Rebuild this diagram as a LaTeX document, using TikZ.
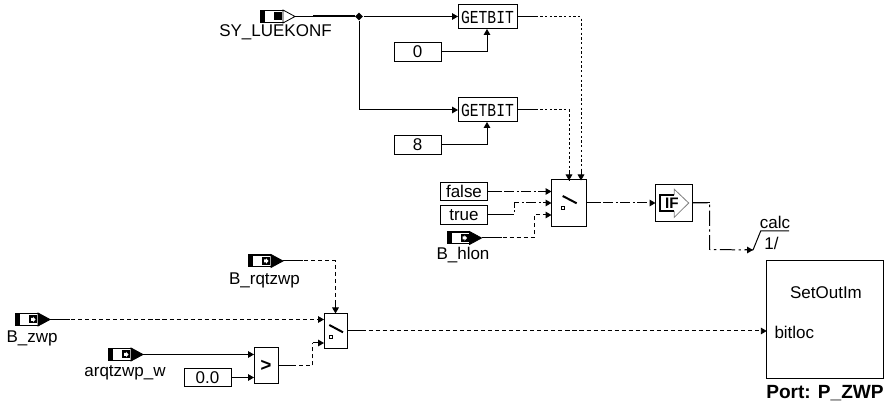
\documentclass[tikz,border=0pt]{standalone}
\usepackage{fontspec}
\setmainfont{Liberation Sans}
\setmonofont{Liberation Mono}
\usetikzlibrary{arrows.meta,shapes.geometric}

% input port, tip at node.east
\newcommand{\inport}[5]{%
  \node[portbody] (#1) at (#2,#3) {};
  \begin{scope}[shift={(#2,#3)}]
    \draw[fill=#4,line width=0.7pt] (5.5,-6.5) -- (17.5,0) -- (5.5,6.5) -- cycle;
    \fill[black] (-17.5,-6.5) rectangle (-12.5,6.5);
    \fill[black] (-17.5,-6.5) rectangle (5.5,-5.2);
    \fill[black] (-17.5,5.2) rectangle (5.5,6.5);
    \fill[black] (-3.5,-4) rectangle (4.5,4);
    \fill[#5] (-1.5,-1.5) -- (0.5,-1.5) -- (0.5,-2.8) -- (3,0) -- (0.5,2.8) -- (0.5,1.5) -- (-1.5,1.5) -- cycle;
  \end{scope}
}

\begin{document}
\begin{tikzpicture}[x=0.03cm,y=-0.03cm,line width=0.85pt,>={Triangle[length=1.8mm,width=2mm]},
  lbl/.style={font=\fontsize{14.5}{16}\selectfont,inner sep=0pt},
  blockbox/.style={draw,rectangle,inner sep=0pt,outer sep=0pt,fill=white},
  getbit/.style={blockbox,minimum width=1.77cm,minimum height=0.72cm,
    font=\fontsize{12.5}{14}\ttfamily},
  constbox/.style={blockbox,lbl,minimum width=1.41cm,minimum height=0.56cm},
  switchbox/.style={blockbox},
  portbody/.style={rectangle,minimum width=1.05cm,minimum height=0.39cm,inner sep=0pt,outer sep=0pt},
  dotwire/.style={dash pattern=on 2pt off 2pt},
  dashwire/.style={dash pattern=on 3.5pt off 2.5pt},
  mixwire/.style={dash pattern=on 8pt off 2.5pt on 1.5pt off 2.5pt}]
\useasboundingbox (0,0) rectangle (884,405);
% ---------- ports ----------
\inport{sy_luekonf}{277.5}{16.5}{white}{black}
\inport{b_hlon}{464}{238}{black}{white}
\inport{b_rqtzwp}{265.5}{261}{black}{white}
\inport{b_zwp}{32.5}{319.5}{black}{white}
\inport{arqtzwp_w}{125.5}{354.5}{black}{white}
\node[lbl] (lbl_sy) at (275.5,32) {SY\_LUEKONF};
\node[lbl] (lbl_hlon) at (463,255) {B\_hlon};
\node[lbl] (lbl_rqt) at (264.5,280) {B\_rqtzwp};
\node[lbl] (lbl_zwp) at (32,338) {B\_zwp};
\node[lbl] (lbl_arq) at (125,373) {arqtzwp\_w};
% ---------- blocks ----------
\node[getbit] (getbit_a) at (487.5,17) {\scalebox{1}[1.25]{GETBIT}};
\node[getbit] (getbit_b) at (487.5,110) {\scalebox{1}[1.25]{GETBIT}};
\node[constbox] (const_0) at (417.5,52) {0};
\node[constbox] (const_8) at (417.5,145) {8};
\node[constbox] (const_false) at (464,191.5) {false};
\node[constbox] (const_true) at (464,215) {true};
\node[constbox] (const_cmp) at (207.5,377.5) {0.0};
\node[switchbox,minimum width=1.05cm,minimum height=1.395cm] (sw_a) at (569,203) {};
\node[switchbox,minimum width=0.705cm,minimum height=1.05cm] (sw_b) at (335.75,331) {};
\node[blockbox,minimum width=1.11cm,minimum height=1.095cm] (if_b) at (674,203) {};
\node[blockbox,minimum width=0.72cm,minimum height=1.08cm,font=\fontsize{16}{18}\ttfamily\bfseries] (cmp) at (266,366) {>};
\node[blockbox,minimum width=3.495cm,minimum height=3.51cm] (setout) at (825,319.5) {};
\node[lbl] (lbl_set) at (826,292.5) {SetOutIm};
\node[lbl,anchor=west] (lbl_bit) at (774,332.5) {bitloc};
\node[lbl,anchor=north,font=\fontsize{16.3}{17}\selectfont\bfseries] (lbl_port) at (825,384.5) {Port: P\_ZWP};
% ---------- switch and IF icons ----------
\draw[line width=1.7pt] (562.7,196) -- (576.7,203.3);
\draw[line width=0.7pt] (561.8,206.8) rectangle (564.8,209.8);
\draw[line width=1.7pt] (329.3,325) -- (343,332.3);
\draw[line width=0.7pt] (329.2,335.2) rectangle (332.2,338.2);
\draw[gray,line width=0.7pt] (674.3,195) -- (674.3,189.3) -- (688.7,203) -- (674.3,217.3) -- (674.3,211);
\draw[line width=1pt] (674.3,195) -- (660,195) -- (660,211) -- (674.3,211);
\node[inner sep=0pt,font=\fontsize{13}{14}\selectfont\bfseries] (if_txt) at (672,203) {IF};
% ---------- pins ----------
\coordinate (pin_a1) at (569,180.5);
\coordinate (pin_a2) at (581,180.5);
\coordinate (pin_a3) at (551.5,203);
\coordinate (pin_a4) at (551.5,215);
\coordinate (pin_a5) at (551.5,191.5);
\coordinate (pin_b1) at (335.5,313.5);
\coordinate (pin_b2) at (324,319.5);
\coordinate (pin_b3) at (324,343);
\coordinate (pin_c1) at (254,354.5);
\coordinate (pin_c2) at (254,377.5);
\coordinate (pin_g1) at (487,29);
\coordinate (pin_g2) at (487,122);
\coordinate (root_tip) at (753,250);
% ---------- wires ----------
\node[diamond,fill,inner sep=0pt,minimum size=0.24cm] (jct) at (359,16.5) {};
\draw (sy_luekonf.east) -- (jct);
\draw[line width=1.7pt] (313,16.5) -- (jct);
\draw[->] (jct) -- (getbit_a.west |- jct);
\draw[->] (jct) |- (getbit_b.west);
\draw[->] (const_0.east) -| (pin_g1);
\draw[->] (const_8.east) -| (pin_g2);
\draw[dotwire] (getbit_a.east) -| (pin_a2);
\draw[->] ([yshift=0.3cm]pin_a2) -- (pin_a2);
\draw[dotwire] (getbit_b.east) -| (pin_a1);
\draw[->] ([yshift=0.3cm]pin_a1) -- (pin_a1);
\draw[mixwire,->] (const_false.east) -- (pin_a5);
\draw[mixwire,->] (const_true.east) -| (514,203) -- (pin_a3);
\draw[dashwire,->] (b_hlon.east) -| (534,215) -- (pin_a4);
\draw[mixwire,->] (sw_a.east) -- (if_b.west);
\draw[mixwire,dash pattern=on 13pt off 3pt on 2pt off 3pt] (if_b.east) -| (709.5,249.5) -- (root_tip);
\draw[->] (745,250) -- (root_tip);
\draw (root_tip) -- (760.7,231) -- (789,231);
\node[lbl] (lbl_calc) at (775,222) {calc};
\node[lbl] (lbl_one) at (771.5,243) {1/};
\draw[dashwire] (b_rqtzwp.east) -| (pin_b1);
\draw[->] ([yshift=0.4cm]pin_b1) -- (pin_b1);
\draw[dashwire,->] (b_zwp.east) -- (pin_b2);
\draw[->] (arqtzwp_w.east) -- (pin_c1);
\draw[->] (const_cmp.east) -- (pin_c2);
\draw[dashwire] (cmp.east) -| (312.5,343);
\draw[->] (312.5,343) -- (pin_b3);
\draw[dashwire,->] (sw_b.east) -- (setout.west |- sw_b.east);
% solid start of each broken wire
\foreach \from/\len in {getbit_a/20,getbit_b/20,const_false/14,const_true/16,b_hlon/20,sw_a/14,if_b/17,b_rqtzwp/20,b_zwp/20,cmp/14,sw_b/14}
  \draw (\from.east) -- ++(\len,0);
\end{tikzpicture}
\end{document}
